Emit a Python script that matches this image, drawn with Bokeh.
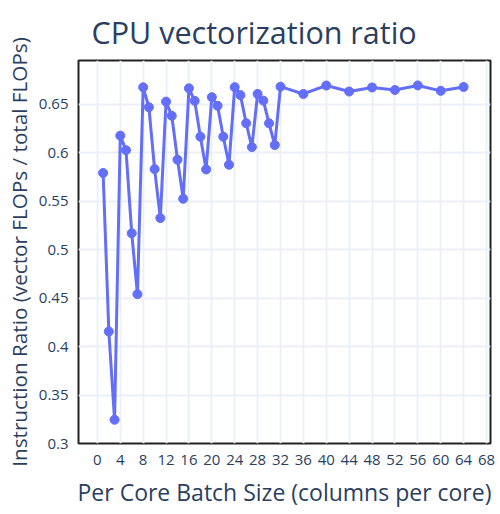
from bokeh.plotting import figure
from bokeh.models import FixedTicker, NumeralTickFormatter, Range1d
from bokeh.embed import file_html
from bokeh.resources import INLINE

# Data
batch_size = [1, 2, 3, 4, 5, 6, 7, 8, 9, 10, 11, 12, 13, 14, 15, 16,
              17, 18, 19, 20, 21, 22, 23, 24, 25, 26, 27, 28, 29, 30, 31, 32,
              36, 40, 44, 48, 52, 56, 60, 64]
ratio = [0.579, 0.4155, 0.3245, 0.6175, 0.6025, 0.5168, 0.4540, 0.6673,
         0.6468, 0.5830, 0.5325, 0.6526, 0.6380, 0.5926, 0.5524, 0.6663,
         0.6534, 0.6164, 0.5826, 0.6572, 0.6483, 0.6164, 0.5875, 0.6675,
         0.6593, 0.6303, 0.6057, 0.6605, 0.6536, 0.6302, 0.6078, 0.6680,
         0.6605, 0.6692, 0.6630, 0.6672, 0.6646, 0.6693, 0.6637, 0.6677]
x_ticks = list(range(0, 69, 4))
y_ticks = [0.3, 0.35, 0.4, 0.45, 0.5, 0.55, 0.6, 0.65]
title_text = "CPU vectorization ratio"
x_title = "Per Core Batch Size (columns per core)"
y_title = "Instruction Ratio (vector FLOPs / total FLOPs)"

TEXT = "#2a3f5f"
FONT = "Open Sans"
COLOR = "#636efa"

p = figure(width=500, height=514, output_backend="svg", toolbar_location=None,
           x_range=Range1d(-3.3, 68.7), y_range=Range1d(0.3, 0.695),
           title=title_text,
           min_border_left=78, min_border_right=10, min_border_top=60,
           min_border_bottom=71)

p.title.text_font = FONT
p.title.text_font_size = "30.5px"
p.title.text_font_style = "normal"
p.title.text_color = TEXT
p.title.align = "left"
p.title.offset = 13
p.title.standoff = 15

p.background_fill_color = "white"
p.border_fill_color = "white"
p.outline_line_color = "#222222"
p.outline_line_width = 2
p.outline_line_alpha = 1.0

p.xaxis.ticker = FixedTicker(ticks=x_ticks)
p.yaxis.ticker = FixedTicker(ticks=y_ticks)
p.yaxis.formatter = NumeralTickFormatter(format="0.[00]")

for ax in (p.xaxis[0], p.yaxis[0]):
    ax.axis_line_color = None
    ax.major_tick_line_color = None
    ax.minor_tick_line_color = None
    ax.major_label_text_font = FONT
    ax.major_label_text_font_size = "15px"
    ax.major_label_text_color = TEXT
    ax.axis_label_text_font = FONT
    ax.axis_label_text_font_style = "normal"
    ax.axis_label_text_color = TEXT

p.xaxis.axis_label_text_font_size = "23px"
p.yaxis.axis_label_text_font_size = "20.7px"
p.xaxis.major_label_standoff = 5
p.yaxis.major_label_standoff = 4
p.xaxis.axis_label = x_title
p.yaxis.axis_label = y_title
p.xaxis.axis_label_standoff = 8
p.yaxis.axis_label_standoff = 3

p.xgrid.grid_line_color = "#EBF0F8"
p.ygrid.grid_line_color = "#EBF0F8"
p.xgrid.grid_line_width = 2
p.ygrid.grid_line_width = 2

p.line(batch_size, ratio, line_color=COLOR, line_width=3)
p.scatter(batch_size, ratio, size=9, fill_color=COLOR, line_color=COLOR)

open("out.html", "w").write(file_html(p, INLINE))
